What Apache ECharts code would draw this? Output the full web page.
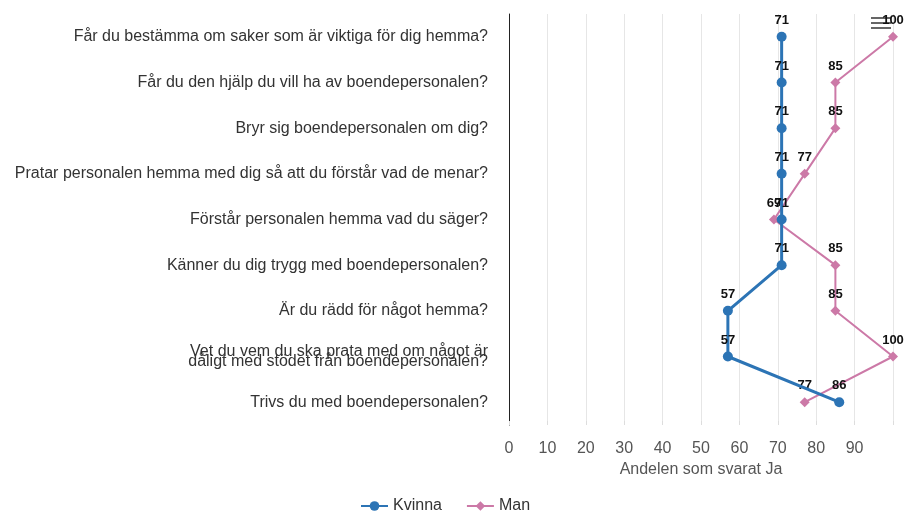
<!DOCTYPE html>
<html>
<head>
<meta charset="utf-8">
<script src="https://cdn.jsdelivr.net/npm/echarts@6/dist/echarts.min.js"></script>
<style>
  html, body { margin: 0; padding: 0; background: #fff; }
  #chart { width: 905px; height: 512px; }
</style>
</head>
<body>
<div id="chart"></div>
<script>
const fragor = [
  'Får du bestämma om saker som är viktiga för dig hemma?',
  'Får du den hjälp du vill ha av boendepersonalen?',
  'Bryr sig boendepersonalen om dig?',
  'Pratar personalen hemma med dig så att du förstår vad de menar?',
  'Förstår personalen hemma vad du säger?',
  'Känner du dig trygg med boendepersonalen?',
  'Är du rädd för något hemma?',
  'Vet du vem du ska prata med om något är\ndåligt med stödet från boendepersonalen?',
  'Trivs du med boendepersonalen?'
];
const kvinna = [71, 71, 71, 71, 71, 71, 57, 57, 86];
const man = [100, 85, 85, 77, 69, 85, 85, 100, 77];
const xTicks = [0, 10, 20, 30, 40, 50, 60, 70, 80, 90];

const FONT = '"Liberation Sans", Arial, sans-serif';

const labelStyle = {
  show: true,
  position: 'top',
  distance: 5,
  color: '#111',
  fontWeight: 'bold',
  fontSize: 13,
  fontFamily: FONT
};

const chart = echarts.init(document.getElementById('chart'));

chart.setOption({
  animation: false,
  textStyle: { fontFamily: FONT },
  grid: { left: 509, right: 12, top: 14, bottom: 87 },
  legend: {
    bottom: -7,
    left: 355,
    itemGap: 24,
    itemWidth: 27,
    itemHeight: 12,
    textStyle: { fontSize: 16, color: '#333', fontFamily: FONT },
    data: ['Kvinna', 'Man']
  },
  xAxis: {
    type: 'value',
    min: 0,
    max: 100,
    interval: 10,
    name: 'Andelen som svarat Ja',
    nameLocation: 'middle',
    nameGap: 37,
    nameTextStyle: { fontSize: 16, color: '#555', fontFamily: FONT },
    axisLine: { show: false },
    axisTick: { show: true, length: 4, inside: true, lineStyle: { color: '#ddd' } },
    axisLabel: {
      margin: 16,
      fontSize: 16,
      color: '#555',
      fontFamily: FONT,
      formatter: v => (xTicks.includes(v) ? String(v) : '')
    },
    splitLine: { show: true, lineStyle: { color: '#e6e6e6', width: 1 } }
  },
  yAxis: {
    type: 'category',
    data: fragor,
    inverse: true,
    axisLine: { show: true, lineStyle: { color: '#222', width: 1 } },
    axisTick: { show: false },
    axisLabel: {
      margin: 21,
      fontSize: 16,
      color: '#333',
      fontFamily: FONT,
      lineHeight: 10
    },
    splitLine: { show: false }
  },
  series: [
    {
      name: 'Kvinna',
      type: 'line',
      data: kvinna,
      color: '#2c74b5',
      symbol: 'circle',
      symbolSize: 10,
      lineStyle: { width: 3 },
      label: labelStyle,
      z: 3
    },
    {
      name: 'Man',
      type: 'line',
      data: man,
      color: '#cc79a7',
      symbol: 'diamond',
      symbolSize: 10,
      lineStyle: { width: 2 },
      label: labelStyle,
      z: 2
    }
  ],
  graphic: [
    {
      type: 'group',
      right: 14,
      top: 17,
      children: [
        { type: 'rect', shape: { x: 0, y: 0, width: 20, height: 2 }, style: { fill: '#666' } },
        { type: 'rect', shape: { x: 0, y: 5, width: 20, height: 2 }, style: { fill: '#666' } },
        { type: 'rect', shape: { x: 0, y: 10, width: 20, height: 2 }, style: { fill: '#666' } }
      ]
    }
  ]
});
</script>
</body>
</html>
